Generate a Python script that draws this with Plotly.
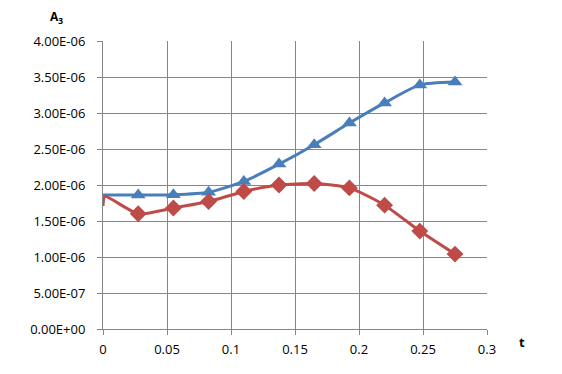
import plotly.graph_objects as go

# valores
t_blue = [0, 0.0275, 0.055, 0.0825, 0.11, 0.1375, 0.165, 0.1925, 0.22, 0.2475, 0.275]
a3_blue = [1.86e-6, 1.86e-6, 1.865e-6, 1.90e-6, 2.05e-6, 2.29e-6, 2.56e-6, 2.86e-6, 3.14e-6, 3.39e-6, 3.43e-6]

t_red = [0, 0.0015, 0.0275, 0.055, 0.0825, 0.11, 0.1375, 0.165, 0.1925, 0.22, 0.2475, 0.275]
a3_red = [1.71e-6, 1.84e-6, 1.60e-6, 1.68e-6, 1.77e-6, 1.91e-6, 2.00e-6, 2.02e-6, 1.96e-6, 1.72e-6, 1.36e-6, 1.04e-6]

y_ticks = [0, 0.5e-6, 1.0e-6, 1.5e-6, 2.0e-6, 2.5e-6, 3.0e-6, 3.5e-6, 4.0e-6]
y_labels = ["0.00E+00", "5.00E-07", "1.00E-06", "1.50E-06", "2.00E-06",
            "2.50E-06", "3.00E-06", "3.50E-06", "4.00E-06"]
x_ticks = [0, 0.05, 0.1, 0.15, 0.2, 0.25, 0.3]
x_labels = ["0", "0.05", "0.1", "0.15", "0.2", "0.25", "0.3"]

BLUE = "#4A7EBB"
RED = "#BE4B48"
GRID = "#868686"
FONT = "Open Sans, Liberation Sans, Arial, sans-serif"

fig = go.Figure()

fig.add_trace(go.Scatter(
    x=t_blue[1:], y=a3_blue[1:], mode="markers",
    marker=dict(symbol="triangle-up", size=13, color=BLUE),
    showlegend=False, hoverinfo="skip"
))
fig.add_trace(go.Scatter(
    x=t_blue, y=a3_blue, mode="lines",
    line=dict(color=BLUE, width=3, shape="spline", smoothing=0.6),
    showlegend=False
))
fig.add_trace(go.Scatter(
    x=t_red, y=a3_red, mode="lines",
    line=dict(color=RED, width=3, shape="spline", smoothing=0.6),
    showlegend=False
))
fig.add_trace(go.Scatter(
    x=t_red[2:], y=a3_red[2:], mode="markers",
    marker=dict(symbol="diamond", size=13, color=RED),
    showlegend=False, hoverinfo="skip"
))

axis_font = dict(family=FONT, size=13, color="#000000")

# a página tem margem de ~8px, então a figura é um pouco menor que a janela
fig.update_layout(
    width=554, height=366,
    margin=dict(l=95, r=75, t=33, b=45),
    paper_bgcolor="white", plot_bgcolor="white",
    xaxis=dict(
        range=[0, 0.3], tickvals=x_ticks, ticktext=x_labels,
        showgrid=True, gridcolor=GRID, gridwidth=1,
        showline=True, linecolor=GRID, linewidth=1,
        ticks="outside", ticklen=5, tickcolor=GRID,
        ticklabelstandoff=3,
        tickfont=axis_font, zeroline=False
    ),
    yaxis=dict(
        range=[0, 4e-6], tickvals=y_ticks, ticktext=y_labels,
        showgrid=True, gridcolor=GRID, gridwidth=1,
        showline=True, linecolor=GRID, linewidth=1,
        ticks="outside", ticklen=5, tickcolor=GRID,
        ticklabelstandoff=9,
        tickfont=axis_font, zeroline=False
    ),
    annotations=[
        dict(text="<b>A<sub>3</sub></b>", xref="paper", yref="paper",
             x=-0.12, y=1.083, xanchor="center", yanchor="middle", showarrow=False,
             font=dict(family=FONT, size=12, color="#000000")),
        dict(text="<b>t</b>", xref="paper", yref="paper",
             x=1.091, y=-0.045, xanchor="center", yanchor="middle", showarrow=False,
             font=dict(family=FONT, size=13, color="#000000")),
    ],
)

fig.write_html("out.html")
